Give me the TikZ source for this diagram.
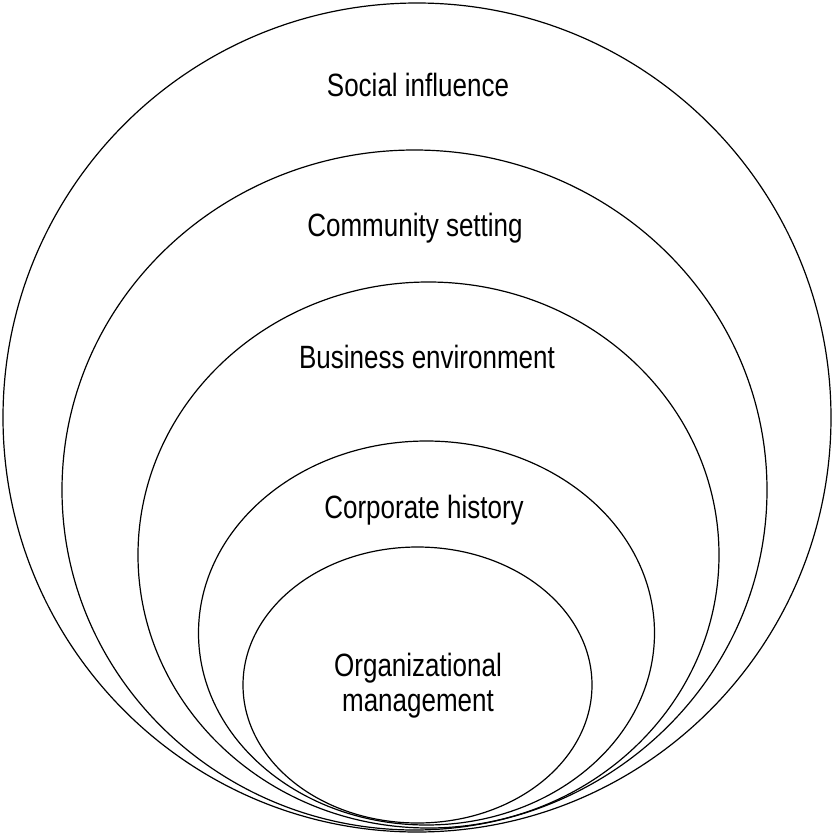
\documentclass[tikz,border=0pt]{standalone}
\usepackage{fontspec}
\setmainfont{Liberation Sans}
\usepackage{graphicx}
\usepackage{tikz}

\newcommand{\tall}[1]{\scalebox{1}[1.24]{#1}}

\begin{document}
\begin{tikzpicture}[x=1pt,y=1pt,yscale=-1,xscale=1]
        \useasboundingbox (0,0) rectangle (833,836); %diagram is 833 by 836
        
        %Shape: Ellipse [id:social] 
        \draw  [line width=1.2pt] (417,417.5) ellipse [x radius=414, y radius=414.5] ;
        %Shape: Ellipse [id:community] 
        \draw  [line width=1.2pt] (414.5,490) ellipse [x radius=352.5, y radius=340] ;
        %Shape: Ellipse [id:business] 
        \draw  [line width=1.2pt] (428.5,555) ellipse [x radius=290.5, y radius=273] ;
        %Shape: Ellipse [id:corporate] 
        \draw  [line width=1.2pt] (426.5,633) ellipse [x radius=228, y radius=192] ;
        %Shape: Ellipse [id:organizational] 
        \draw  [line width=1.2pt] (417.5,685) ellipse [x radius=174.5, y radius=138] ;
        
        % Text Node
        \draw (418,85) node (social) [inner sep=0.75pt] [font=\fontsize{26}{35}\selectfont]  {\tall{Social influence}};
        % Text Node
        \draw (415,228) node (community) [inner sep=0.75pt] [font=\fontsize{26}{35}\selectfont]  {\tall{Community setting}};
        % Text Node
        \draw (427,357) node (business) [inner sep=0.75pt] [font=\fontsize{26}{35}\selectfont]  {\tall{Business environment}};
        % Text Node
        \draw (424,510) node (corporate) [inner sep=0.75pt] [font=\fontsize{26}{35}\selectfont]  {\tall{Corporate history}};
        % Text Node
        \draw (418,686) node (organizational) [inner sep=0.75pt] [font=\fontsize{26}{35}\selectfont, align=center]  {\tall{Organizational}\\\tall{management}};
        
        
        \end{tikzpicture}
\end{document}
